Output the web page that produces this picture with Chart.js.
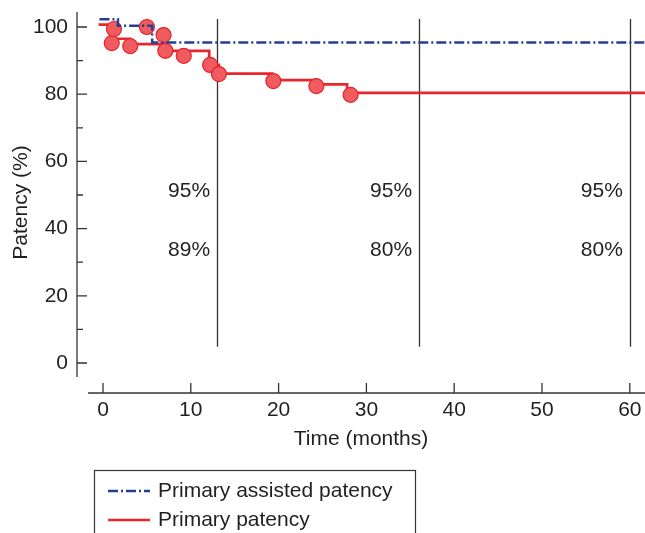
<!DOCTYPE html>
<html>
<head>
<meta charset="utf-8">
<script src="https://cdn.jsdelivr.net/npm/chart.js@4.4.0/dist/chart.umd.min.js"></script>
<style>
  html, body { margin: 0; padding: 0; background: #fff; }
  #wrap { width: 645px; height: 533px; }
</style>
</head>
<body>
<div id="wrap"><canvas id="graficaPatencia"></canvas></div>
<script>
// ---- datos ----
const assistedMonths = [-0.4, 1.7, 5.6, 62];
const assistedValues = [102.3, 100.4, 95.4, 95.4];
const primaryMonths = [-0.5, 1.0, 3.1, 6.8, 12.1, 13.2, 19.3, 24.3, 27.8, 62];
const primaryValues = [100.7, 96.5, 94.9, 92.9, 88.7, 86.1, 84.2, 82.9, 80.4, 80.4];
const censorMonths = [1.0, 1.25, 3.1, 5.0, 6.9, 7.1, 9.2, 12.2, 13.2, 19.4, 24.3, 28.2];
const censorValues = [95.2, 99.4, 94.3, 100.0, 97.6, 92.9, 91.4, 88.7, 86.0, 83.9, 82.4, 79.8];
const yTicks = [0, 20, 40, 60, 80, 100];
const yMinorTicks = [10, 30, 50, 70, 90];
const xTicks = [0, 10, 20, 30, 40, 50, 60];
const markMonths = [13, 36, 60];
const assistedRates = ['95%', '95%', '95%'];
const primaryRates = ['89%', '80%', '80%'];

const FONT = { family: "'Liberation Sans', Arial, sans-serif", size: 21 };
const TEXT_COLOR = '#231f20';
const AXIS_COLOR = '#333333';
const BLUE = '#233f94';
const RED = '#e8262e';
const BLUE_DASH = [10, 3, 2, 3];

function toPoints(xs, ys) {
    return xs.map((m, i) => ({ x: m, y: ys[i] }));
}

// ejes separados, marcas hacia dentro, líneas verticales y textos
const ejesPlugin = {
    id: 'ejes',
    beforeDatasetsDraw(chart) {
        const { ctx, chartArea, scales: { x, y } } = chart;
        ctx.save();
        ctx.strokeStyle = AXIS_COLOR;
        ctx.lineWidth = 1.3;

        // eje Y
        ctx.beginPath();
        ctx.moveTo(chartArea.left, chartArea.top);
        ctx.lineTo(chartArea.left, y.getPixelForValue(-4.2));
        yTicks.forEach(v => {
            const py = y.getPixelForValue(v);
            ctx.moveTo(chartArea.left, py);
            ctx.lineTo(chartArea.left + 10, py);
        });
        yMinorTicks.forEach(v => {
            const py = y.getPixelForValue(v);
            ctx.moveTo(chartArea.left, py);
            ctx.lineTo(chartArea.left + 6, py);
        });
        ctx.stroke();

        // eje X
        ctx.beginPath();
        ctx.moveTo(x.getPixelForValue(-1.7), chartArea.bottom);
        ctx.lineTo(chart.width, chartArea.bottom);
        xTicks.forEach(v => {
            const px = x.getPixelForValue(v);
            ctx.moveTo(px, chartArea.bottom);
            ctx.lineTo(px, chartArea.bottom - 10);
        });
        ctx.stroke();

        // etiquetas del eje X
        ctx.font = `${FONT.size}px ${FONT.family}`;
        ctx.fillStyle = TEXT_COLOR;
        ctx.textAlign = 'center';
        ctx.textBaseline = 'middle';
        xTicks.forEach(v => {
            ctx.fillText(String(v), x.getPixelForValue(v), chartArea.bottom + 17);
        });

        // líneas verticales de los cortes
        ctx.beginPath();
        markMonths.forEach(m => {
            const px = Math.round(x.getPixelForValue(m)) + 0.5;
            ctx.moveTo(px, y.getPixelForValue(4.8));
            ctx.lineTo(px, y.getPixelForValue(102.4));
        });
        ctx.stroke();
        ctx.restore();
    },
    afterDraw(chart) {
        const { ctx, scales: { x, y } } = chart;
        ctx.save();
        ctx.font = `${FONT.size}px ${FONT.family}`;
        ctx.fillStyle = TEXT_COLOR;
        ctx.textAlign = 'right';
        ctx.textBaseline = 'middle';
        markMonths.forEach((m, i) => {
            const px = x.getPixelForValue(m) - 7;
            ctx.fillText(assistedRates[i], px, y.getPixelForValue(51.2));
            ctx.fillText(primaryRates[i], px, y.getPixelForValue(33.6));
        });

        // leyenda con caja cortada abajo
        const ds = chart.data.datasets;
        ctx.strokeStyle = AXIS_COLOR;
        ctx.lineWidth = 1.2;
        ctx.strokeRect(94.5, 470.5, 321, 90);
        const items = [ds[0], ds[2]];
        items.forEach((d, i) => {
            const ly = 491 + i * 29;
            ctx.beginPath();
            ctx.strokeStyle = d.borderColor;
            ctx.lineWidth = d.borderWidth;
            ctx.setLineDash(d.borderDash || []);
            ctx.moveTo(108, ly);
            ctx.lineTo(150, ly);
            ctx.stroke();
            ctx.setLineDash([]);
            ctx.textAlign = 'left';
            ctx.fillText(d.label, 158, ly);
        });
        ctx.restore();
    }
};

const ctx = document.getElementById('graficaPatencia').getContext('2d');
const chartPatencia = new Chart(ctx, {
    type: 'scatter',
    data: {
        datasets: [{
            type: 'line',
            label: 'Primary assisted patency',
            data: toPoints(assistedMonths, assistedValues),
            borderColor: BLUE,
            borderWidth: 2.5,
            borderDash: BLUE_DASH,
            stepped: 'before',
            pointRadius: 0,
            fill: false,
            order: 0
        }, {
            label: 'Censored',
            data: toPoints(censorMonths, censorValues),
            backgroundColor: '#ef5b5f',
            borderColor: '#e3262c',
            borderWidth: 1.2,
            pointRadius: 7.5,
            showLine: false,
            order: 1
        }, {
            type: 'line',
            label: 'Primary patency',
            data: toPoints(primaryMonths, primaryValues),
            borderColor: RED,
            borderWidth: 2.7,
            stepped: 'before',
            pointRadius: 0,
            fill: false,
            order: 2
        }]
    },
    options: {
        responsive: true,
        maintainAspectRatio: false,
        animation: false,
        layout: {
            autoPadding: false,
            padding: { top: 12, right: 0, bottom: 78, left: 0 }
        },
        plugins: {
            legend: { display: false },
            tooltip: { enabled: false }
        },
        scales: {
            x: {
                type: 'linear',
                min: -2.96,
                max: 61.73,
                grid: { display: false, drawTicks: false },
                border: { display: false },
                ticks: { display: false },
                afterBuildTicks: s => { s.ticks = xTicks.map(v => ({ value: v })); },
                afterFit: s => {
                    s.height = 62;
                    s.paddingLeft = 0;
                    s.paddingRight = 0;
                },
                title: {
                    display: true,
                    text: 'Time (months)',
                    font: FONT,
                    color: TEXT_COLOR,
                    padding: { top: 0, bottom: 3 }
                }
            },
            y: {
                min: -8.93,
                max: 104.46,
                grid: { display: false, drawTicks: false },
                border: { display: false },
                ticks: { font: FONT, color: TEXT_COLOR, padding: 9 },
                afterBuildTicks: s => { s.ticks = yTicks.map(v => ({ value: v })); },
                afterFit: s => {
                    s.width = 77;
                    s.paddingTop = 0;
                    s.paddingBottom = 0;
                },
                title: {
                    display: true,
                    text: 'Patency (%)',
                    font: FONT,
                    color: TEXT_COLOR,
                    padding: { top: 9, bottom: 0 }
                }
            }
        }
    },
    plugins: [ejesPlugin]
});
</script>
</body>
</html>
